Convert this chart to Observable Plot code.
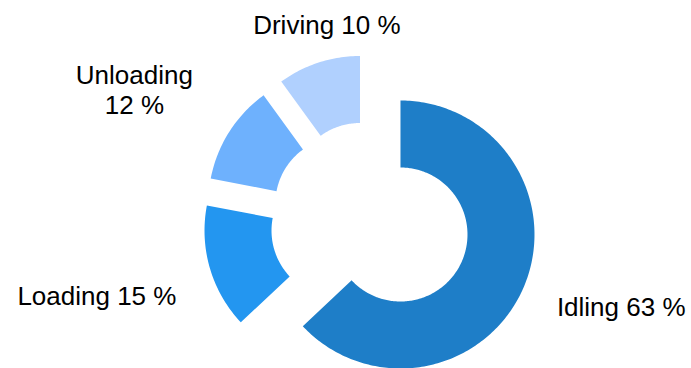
<!DOCTYPE html>
<html>
<head>
<meta charset="utf-8">
<script src="https://cdn.jsdelivr.net/npm/d3@7"></script>
<script src="https://cdn.jsdelivr.net/npm/@observablehq/plot@0.6"></script>
<style>
  html, body { margin: 0; padding: 0; background: #fff; }
</style>
</head>
<body>
<div id="chart"></div>
<script>
// ---- Data ----
const categories = ["Idling", "Loading", "Unloading", "Driving"];
const values = [63, 15, 12, 10];
const labels = ["Idling 63 %", "Loading 15 %", "Unloading\n12 %", "Driving 10 %"];
const colors = ["#1e7ec8", "#2396f0", "#6eb1fd", "#b0d0fe"];

// ---- Layout ----
const W = 691, H = 368;
const CX = 369.7, CY = 220.9, R = 134;   // pixel centre & outer radius
const innerRatio = 0.5;
const explode = 33 / R;
const fontSize = 26, lineHeight = 1.15, fontFamily = "'Liberation Sans', Arial, sans-serif";
// small label nudges (px) to mimic the reference's label fitting
const labelNudge = {Idling: [6, -21], Loading: [-2, -5], Unloading: [-10, 11], Driving: [21, 1]};

const rows = categories.map((c, i) => ({category: c, value: values[i], label: labels[i], color: colors[i]}));
const arcs = d3.pie().sort(null).value(d => d.value).startAngle(0).endAngle(2 * Math.PI)(rows);

// polygon points for each (exploded) ring slice, in units of R, y up
const pts = [];
for (const s of arcs) {
  const mid = (s.startAngle + s.endAngle) / 2;
  const ox = explode * Math.sin(mid), oy = explode * Math.cos(mid);
  const n = Math.max(8, Math.ceil((s.endAngle - s.startAngle) / (Math.PI / 180)));
  for (let k = 0; k <= n; k++) {
    const a = s.startAngle + (s.endAngle - s.startAngle) * k / n;
    pts.push({category: s.data.category, x: ox + Math.sin(a), y: oy + Math.cos(a)});
  }
  for (let k = n; k >= 0; k--) {
    const a = s.startAngle + (s.endAngle - s.startAngle) * k / n;
    pts.push({category: s.data.category, x: ox + innerRatio * Math.sin(a), y: oy + innerRatio * Math.cos(a)});
  }
}

// label placement: box centre along bisector, outside the ring
const ctx = document.createElement("canvas").getContext("2d");
ctx.font = `${fontSize}px ${fontFamily}`;
const r0 = 202, topPad = 8;
const labelData = arcs.map(s => {
  const mid = (s.startAngle + s.endAngle) / 2;
  const lines = s.data.label.split("\n");
  const w = Math.max(...lines.map(l => ctx.measureText(l).width));
  const h = lines.length * fontSize * lineHeight;
  const sx = Math.sin(mid), sy = -Math.cos(mid); // screen direction
  let dist = r0 + (w / 2) * Math.abs(sx) + (h / 2) * Math.abs(sy);
  let px = CX + dist * sx, py = CY + dist * sy;
  if (py - h / 2 < topPad && sy < 0) {
    py = topPad + h / 2;
    dist = (py - CY) / sy;
    px = CX + dist * sx;
  }
  const [nx, ny] = labelNudge[s.data.category] || [0, 0];
  px += nx; py += ny;
  return {label: s.data.label, x: (px - CX) / R, y: (CY - py) / R};
});

const chart = Plot.plot({
  width: W,
  height: H,
  margin: 0,
  x: {domain: [-CX / R, (W - CX) / R], axis: null},
  y: {domain: [-(H - CY) / R, CY / R], axis: null},
  style: {fontFamily, background: "#fff"},
  marks: [
    ...categories.map((c, i) => Plot.line(pts.filter(p => p.category === c), {
      x: "x", y: "y", fill: colors[i], stroke: "none", curve: "linear-closed"
    })),
    Plot.text(labelData, {
      x: "x", y: "y", text: "label",
      textAnchor: "middle", lineAnchor: "middle",
      fontSize, lineHeight, fill: "#000"
    })
  ]
});
document.getElementById("chart").appendChild(chart);
</script>
</body>
</html>
